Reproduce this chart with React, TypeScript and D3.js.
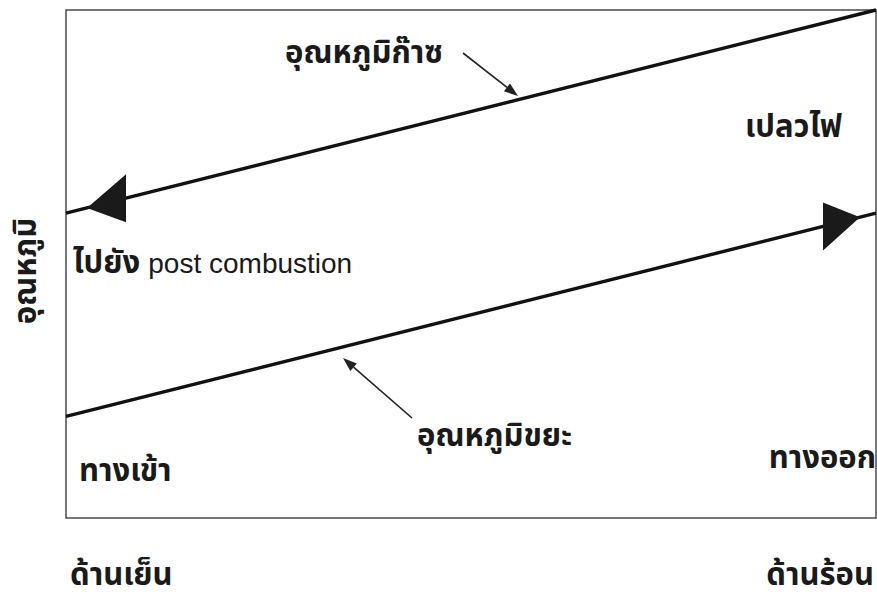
import React from "react";
import * as d3 from "d3";

const W = 877;
const H = 599;

// x positions: 0 = cold side (inlet), 1 = hot side (outlet)
const positions = [0, 1];
const xTickLabels = ["ด้านเย็น", "ด้านร้อน"];
// relative temperature (0-100)
const gasTemp = [60, 100];
const wasteTemp = [20, 60];
const yLabel = "อุณหภูมิ";

export default function App() {
  const x = d3.scaleLinear().domain([0, 1]).range([66, 876]);
  const y = d3.scaleLinear().domain([0, 100]).range([518, 10]);

  const line = d3
    .line<[number, number]>()
    .x((d) => x(d[0]))
    .y((d) => y(d[1]));

  const gasPts: [number, number][] = positions.map((p, i) => [p, gasTemp[i]]);
  const wastePts: [number, number][] = positions.map((p, i) => [p, wasteTemp[i]]);

  const yAt = (pts: [number, number][], px: number) => {
    const t = (px - x(pts[0][0])) / (x(pts[1][0]) - x(pts[0][0]));
    return y(pts[0][1] + t * (pts[1][1] - pts[0][1]));
  };

  // big arrowheads
  const gTip = x(0) + 21;
  const gBase = gTip + 39;
  const gasHead = `M${gTip},${yAt(gasPts, gTip)} L${gBase},${yAt(gasPts, gBase) - 24} L${gBase},${yAt(gasPts, gBase) + 24} Z`;
  const wTip = x(1) - 16;
  const wBase = wTip - 37;
  const wasteHead = `M${wTip},${yAt(wastePts, wTip)} L${wBase},${yAt(wastePts, wBase) - 24} L${wBase},${yAt(wastePts, wBase) + 24} Z`;

  const thai = "'Noto Sans Thai', 'Liberation Sans', Arial, sans-serif";
  const latin = "'Liberation Sans', Arial, sans-serif";

  const smallArrow = (x1: number, y1: number, x2: number, y2: number) => {
    const ang = Math.atan2(y2 - y1, x2 - x1);
    const L = 14;
    const w = 5;
    const bx = x2 - L * Math.cos(ang);
    const by = y2 - L * Math.sin(ang);
    const px = -Math.sin(ang) * w;
    const py = Math.cos(ang) * w;
    return (
      <g>
        <line x1={x1} y1={y1} x2={bx} y2={by} stroke="#222" strokeWidth={1.6} />
        <path d={`M${x2},${y2} L${bx + px},${by + py} L${bx - px},${by - py} Z`} fill="#222" />
      </g>
    );
  };

  return (
    <div style={{ position: "absolute", left: 0, top: 0 }}>
      <svg width={W} height={H} style={{ display: "block", background: "#fff" }}>
        <rect x={66} y={10} width={810} height={508} fill="none" stroke="#555" strokeWidth={1.6} />
        <path d={line(gasPts) || ""} fill="none" stroke="#111" strokeWidth={3.4} />
        <path d={line(wastePts) || ""} fill="none" stroke="#111" strokeWidth={3.4} />
        <path d={gasHead} fill="#1a1a1a" />
        <path d={wasteHead} fill="#1a1a1a" />

        {smallArrow(463, 53, 518, 96)}
        {smallArrow(412, 418, 343, 358)}

        <g fontFamily={thai} fill="#1a1a1a" fontSize={31} fontWeight="bold">
          <text x={285} y={63}>อุณหภูมิก๊าซ</text>
          <text x={745} y={137}>เปลวไฟ</text>
          <text x={417} y={446}>อุณหภูมิขยะ</text>
          <text x={79} y={481}>ทางเข้า</text>
          <text x={876} y={468} textAnchor="end">ทางออก</text>
          <text x={x(positions[0]) + 4} y={585}>{xTickLabels[0]}</text>
          <text x={x(positions[1]) - 2} y={585} textAnchor="end">{xTickLabels[1]}</text>
          <text transform="translate(36,271) rotate(-90)" textAnchor="middle">{yLabel}</text>
          <text x={73} y={273}>
            ไปยัง <tspan fontFamily={latin} fontSize={28} fontWeight="normal">post combustion</tspan>
          </text>
        </g>
      </svg>
    </div>
  );
}
